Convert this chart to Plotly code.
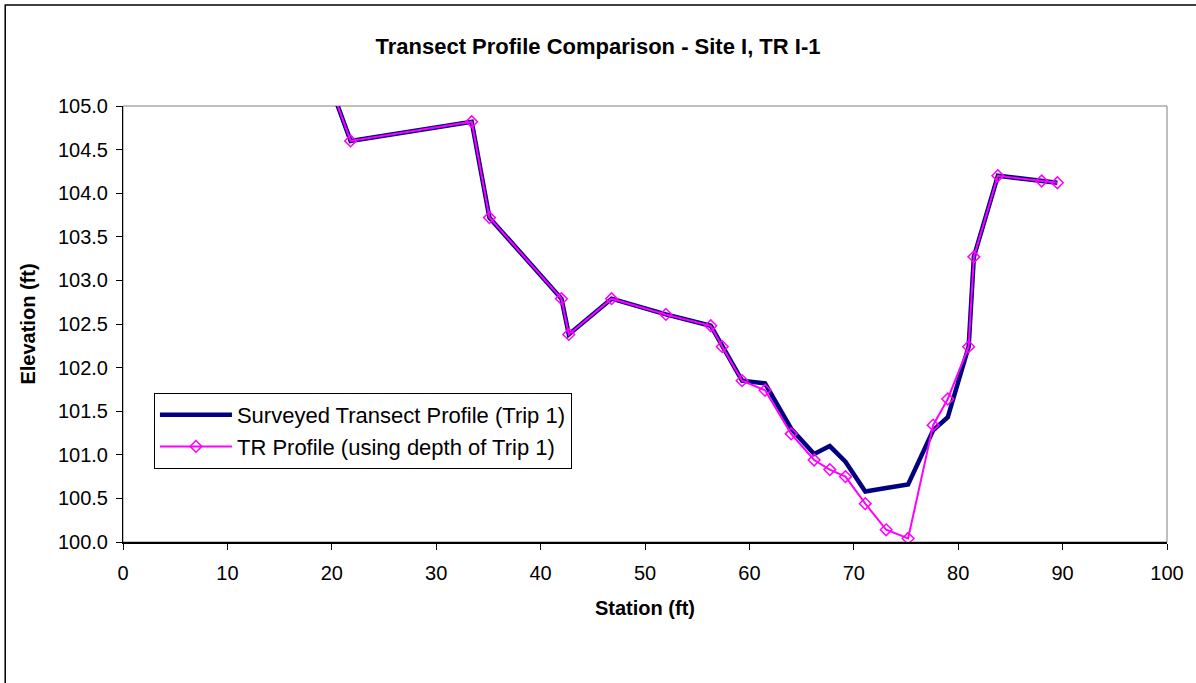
import plotly.graph_objects as go

# Station (ft) of each surveyed point
station = [19.5, 21.8, 33.4, 35.1, 42.0, 42.7, 46.8, 52.0, 56.3, 57.4, 59.3, 61.5, 64.0,
           66.2, 67.7, 69.2, 71.1, 73.1, 75.2, 77.6, 79.0, 81.0, 81.5, 83.8, 88.0, 89.5]
# Elevation (ft) - surveyed transect profile (Trip 1)
elev_surveyed = [105.35, 104.60, 104.82, 103.72, 102.79, 102.38, 102.79, 102.61, 102.48, 102.24,
                 101.85, 101.82, 101.30, 101.01, 101.10, 100.92, 100.58, 100.62, 100.66, 101.28,
                 101.43, 102.24, 103.27, 104.20, 104.14, 104.12]
# Elevation (ft) - TR profile (using depth of Trip 1)
elev_tr = [105.35, 104.60, 104.82, 103.72, 102.79, 102.38, 102.79, 102.61, 102.48, 102.24,
           101.85, 101.74, 101.24, 100.94, 100.83, 100.75, 100.44, 100.14, 100.04, 101.34,
           101.64, 102.24, 103.27, 104.20, 104.14, 104.12]

x_ticks = [0, 10, 20, 30, 40, 50, 60, 70, 80, 90, 100]
y_ticks = [100.0, 100.5, 101.0, 101.5, 102.0, 102.5, 103.0, 103.5, 104.0, 104.5, 105.0]

FONT = 'Liberation Sans, Arial, sans-serif'

fig = go.Figure()
fig.add_trace(go.Scatter(x=station, y=elev_surveyed, mode='lines',
                         name='Surveyed Transect Profile (Trip 1)',
                         line=dict(color='#000080', width=4.5)))
fig.add_trace(go.Scatter(x=station, y=elev_tr, mode='lines+markers',
                         name='TR Profile (using depth of Trip 1)',
                         line=dict(color='#FF00FF', width=2),
                         marker=dict(symbol='diamond-open', size=9, color='#FF00FF',
                                     line=dict(color='#FF00FF', width=1.5))))

W, H = 1196, 683
L, R, T, B = 123, 1169, 106, 542
pw, ph = R - L, B - T

fig.update_layout(
    autosize=False,
    width=W,
    height=H,
    margin=dict(l=L, r=W - R, t=T, b=H - B),
    paper_bgcolor='white',
    plot_bgcolor='white',
    font=dict(family=FONT, size=20, color='black'),
    title=dict(text='<b>Transect Profile Comparison - Site I, TR I-1</b>',
               x=0.5, xref='container', xanchor='center',
               y=1 - 46 / H, yref='container', yanchor='middle',
               font=dict(family=FONT, size=22, color='black')),
    xaxis=dict(range=[0, 100], tickvals=x_ticks, showgrid=False, zeroline=False,
               showline=True, linecolor='black', linewidth=1.5,
               ticks='outside', ticklen=6, tickcolor='black', ticklabelstandoff=6,
               title=dict(text='<b>Station (ft)</b>', standoff=18,
                          font=dict(family=FONT, size=20))),
    yaxis=dict(range=[100, 105], tickvals=y_ticks, tickformat='.1f', showgrid=False,
               zeroline=False, showline=True, linecolor='black', linewidth=1,
               ticks='outside', ticklen=6, tickcolor='black', ticklabelstandoff=4,
               title=dict(text='<b>Elevation (ft)</b>', standoff=16,
                          font=dict(family=FONT, size=20))),
    legend=dict(x=(154 - L) / pw, y=(B - 393) / ph, xanchor='left', yanchor='top',
                bgcolor='white', bordercolor='black', borderwidth=1,
                font=dict(family=FONT, size=22), tracegroupgap=0, itemwidth=72),
    showlegend=True,
)

# grey plot-area frame (top/right) and outer chart border
fig.add_shape(type='rect', xref='paper', yref='paper', x0=0, x1=1, y0=0, y1=1,
              line=dict(color='#808080', width=1), layer='below')
fig.add_shape(type='rect', xref='paper', yref='paper',
              x0=(5 - L) / pw, x1=(W + 20 - L) / pw,
              y0=(B - (H + 20)) / ph, y1=(B - 5) / ph,
              line=dict(color='black', width=1.5), layer='below')

# remove the default page margin so the chart sits at the window origin
fig.write_html('out.html', config={'displayModeBar': False},
               post_script="document.body.style.margin='0';")
